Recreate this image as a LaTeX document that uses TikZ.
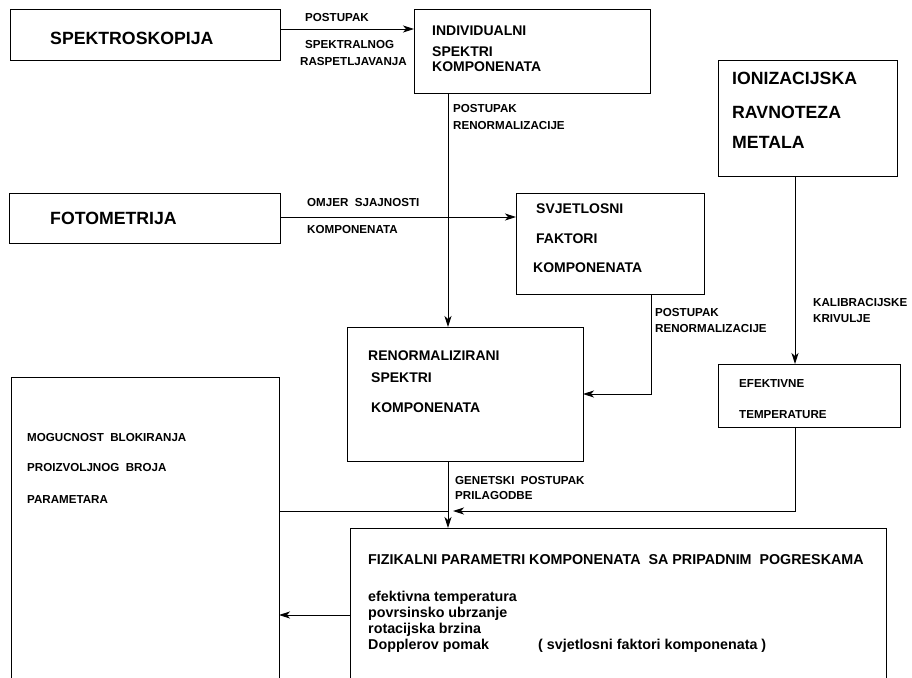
\documentclass[tikz,border=0pt]{standalone}
\usepackage{fontspec}
\setmainfont{Liberation Sans}
\usetikzlibrary{arrows.meta}
\newcommand{\boxnode}[5]{\node[box,minimum width={#4-#2},minimum height={#5-#3}] (#1) at ({(#2+#4)/2},{(#3+#5)/2}) {};}
\begin{document}
\begin{tikzpicture}[x=1pt,y=-1pt,
  box/.style={draw,line width=0.9pt,inner sep=0pt,outer sep=0pt},
  ln/.style={line width=0.9pt},
  arr/.style={line width=0.9pt,-{Stealth[length=11pt,width=7pt,inset=3pt]}},
  txt/.style={anchor=west,inner sep=0pt,text height=0.72em,text depth=0pt},
  big/.style={txt,font=\fontsize{17.7}{18}\selectfont\bfseries},
  mid/.style={txt,font=\fontsize{14}{15}\selectfont\bfseries},
  sml/.style={txt,font=\fontsize{11.6}{12}\selectfont\bfseries},
  fz/.style={txt,font=\fontsize{14.3}{15}\selectfont\bfseries}
]
\useasboundingbox (0,0) rectangle (912,677);
\clip (0,0) rectangle (912,677);
\fill[white] (0,0) rectangle (912,677);

% boxes
\boxnode{spek}{10}{9}{280}{60}
\boxnode{indiv}{414}{9}{650}{93}
\boxnode{ioniz}{718}{60}{897}{176}
\boxnode{foto}{9}{193}{280}{243}
\boxnode{svjet}{516}{193}{704}{294}
\boxnode{renorm}{347}{327}{583}{461}
\boxnode{efekt}{718}{364}{900}{427}
\boxnode{mog}{11}{377}{279}{700}
\boxnode{fiz}{350}{528}{886}{700}

% box texts
\node[big] (t1) at (50,41) {SPEKTROSKOPIJA};
\node[big] (t2) at (50,221) {FOTOMETRIJA};
\node[mid] (t3) at (432,32) {INDIVIDUALNI};
\node[mid] (t4) at (432,53) {SPEKTRI};
\node[mid] (t5) at (432,68) {KOMPONENATA};
\node[big] (t6) at (732,81) {IONIZACIJSKA};
\node[big] (t7) at (732,115) {RAVNOTEZA};
\node[big] (t8) at (732,145) {METALA};
\node[mid] (t9) at (536,210) {SVJETLOSNI};
\node[mid] (t10) at (536,240) {FAKTORI};
\node[mid] (t11) at (533,269) {KOMPONENATA};
\node[mid] (t12) at (368,357) {RENORMALIZIRANI};
\node[mid] (t13) at (371,379) {SPEKTRI};
\node[mid] (t14) at (371,409) {KOMPONENATA};
\node[sml] (t15) at (739,384) {EFEKTIVNE};
\node[sml] (t16) at (739,415) {TEMPERATURE};
\node[sml] (t17) at (27,438) {MOGUCNOST~ BLOKIRANJA};
\node[sml] (t18) at (27,468) {PROIZVOLJNOG~ BROJA};
\node[sml] (t19) at (27,500) {PARAMETARA};
\node[fz] (t20) at (368,561) {FIZIKALNI PARAMETRI KOMPONENATA~ SA PRIPADNIM~ POGRESKAMA};
\node[fz] (t21) at (368,598) {efektivna temperatura};
\node[fz] (t22) at (368,614) {povrsinsko ubrzanje};
\node[fz] (t23) at (368,630) {rotacijska brzina};
\node[fz] (t24) at (368,646) {Dopplerov pomak};
\node[fz] (t25) at (538,646) {( svjetlosni faktori komponenata )};

% connector labels
\node[sml] (l1) at (305,18) {POSTUPAK};
\node[sml] (l2) at (305,45) {SPEKTRALNOG};
\node[sml] (l3) at (300,62) {RASPETLJAVANJA};
\node[sml] (l4) at (453,109) {POSTUPAK};
\node[sml] (l5) at (453,126) {RENORMALIZACIJE};
\node[sml] (l6) at (307,203) {OMJER~ SJAJNOSTI};
\node[sml] (l7) at (307,230) {KOMPONENATA};
\node[sml] (l8) at (655,313) {POSTUPAK};
\node[sml] (l9) at (655,329) {RENORMALIZACIJE};
\node[sml] (l10) at (813,303) {KALIBRACIJSKE};
\node[sml] (l11) at (813,319) {KRIVULJE};
\node[sml] (l12) at (455,481) {GENETSKI~ POSTUPAK};
\node[sml] (l13) at (455,496) {PRILAGODBE};

% connectors
\coordinate (y1) at (0,29);
\coordinate (y2) at (0,217);
\coordinate (y3) at (0,394);
\coordinate (y4) at (0,511);
\coordinate (y5) at (0,615);
\coordinate (x1) at (448,0);
\coordinate (x2) at (651,0);
\coordinate (x3) at (795,0);
\coordinate (j) at (453,511);
\draw[arr] (spek.east |- y1) -- (indiv.west |- y1);
\draw[arr] (foto.east |- y2) -- (svjet.west |- y2);
\draw[arr] (indiv.south -| x1) -- (renorm.north -| x1);
\draw[arr] (svjet.south -| x2) |- (renorm.east |- y3);
\draw[arr] (ioniz.south -| x3) -- (efekt.north -| x3);
\draw[arr] (renorm.south -| x1) -- (fiz.north -| x1);
\draw[arr] (efekt.south -| x3) |- (j);
\draw[ln] (mog.east |- y4) -- (x1 |- y4);
\draw[arr] (fiz.west |- y5) -- (mog.east |- y5);
\end{tikzpicture}
\end{document}
